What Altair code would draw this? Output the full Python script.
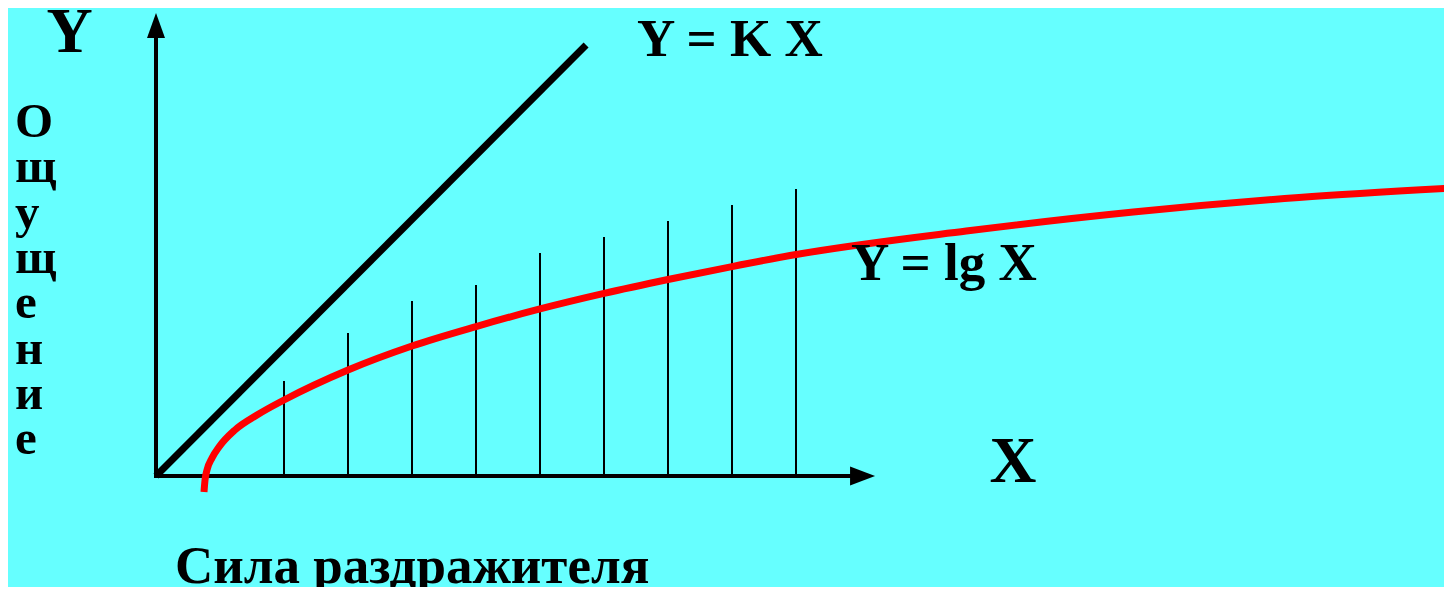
import altair as alt
import pandas as pd

# ---- data (X: stimulus units, Y: sensation units) ----
STRIKE_X = [2, 3, 4, 5, 6, 7, 8, 9, 10]
STRIKE_TOP = [5.94, 8.94, 10.94, 11.94, 13.94, 14.94, 15.94, 16.94, 17.94]

LOG_X = [0.75, 0.766, 0.797, 0.875, 0.984, 1.234, 1.578, 2.0, 3.0, 4.0, 5.0,
         6.0, 7.0, 8.0, 9.0, 10.0, 12.66, 15.27, 17.86, 20.25]
LOG_Y = [-1.0, -0.25, 0.375, 1.125, 1.81, 2.875, 3.81, 4.75, 6.625, 8.125, 9.34,
         10.44, 11.41, 12.28, 13.09, 13.84, 15.31, 16.5, 17.41, 18.0]

LIN_X = [0.0, 6.72]
LIN_Y = [0.0, 26.94]

AXIS_X_END = 10.88
AXIS_Y_END = 27.5
ARROW_X = 11.04
ARROW_Y = 28.16

BG = "#66FFFF"
FONT = "Liberation Serif"

xs = alt.Scale(domain=[-2.3125, 20.125], nice=False, zero=False)
ys = alt.Scale(domain=[-6.9375, 29.25], nice=False, zero=False)

strikes = pd.DataFrame({"x": STRIKE_X, "y0": [0] * len(STRIKE_X), "y1": STRIKE_TOP})
logdf = pd.DataFrame({"x": LOG_X, "y": LOG_Y, "i": list(range(len(LOG_X)))})
lindf = pd.DataFrame({"x": LIN_X, "y": LIN_Y})
vaxis = pd.DataFrame({"x": [0.0], "y0": [-0.12], "y1": [AXIS_Y_END]})
haxis = pd.DataFrame({"x0": [-0.03], "x1": [AXIS_X_END], "y": [0.0]})
up_arrow = pd.DataFrame({"x": [0.0], "y": [ARROW_Y]})
right_arrow = pd.DataFrame({"x": [ARROW_X], "y": [0.0]})

X = lambda f: alt.X(f, type="quantitative", scale=xs, axis=None)
Y = lambda f: alt.Y(f, type="quantitative", scale=ys, axis=None)

rules = alt.Chart(strikes).mark_rule(color="black", strokeWidth=2).encode(
    x=X("x"), y=Y("y0"), y2="y1")

vax = alt.Chart(vaxis).mark_rule(color="black", strokeWidth=4).encode(
    x=X("x"), y=Y("y0"), y2="y1")
hax = alt.Chart(haxis).mark_rule(color="black", strokeWidth=4).encode(
    x=X("x0"), x2="x1", y=Y("y"))

upa = alt.Chart(up_arrow).mark_point(
    shape="M0,-1L0.72,1L-0.72,1Z", size=625, filled=True, fill="black",
    stroke=None, opacity=1).encode(x=X("x"), y=Y("y"))
ra = alt.Chart(right_arrow).mark_point(
    shape="M1,0L-1,0.76L-1,-0.76Z", size=625, filled=True, fill="black",
    stroke=None, opacity=1).encode(x=X("x"), y=Y("y"))

lin = alt.Chart(lindf).mark_line(color="black", strokeWidth=7, strokeCap="butt").encode(
    x=X("x"), y=Y("y"))

logc = alt.Chart(logdf).mark_line(color="#FF0000", strokeWidth=7, strokeCap="butt",
                                  interpolate="monotone").encode(
    x=X("x"), y=Y("y"), order="i:Q")


def label(txt, x, y, size, align="left", **kw):
    return alt.Chart(pd.DataFrame({"t": [txt]})).mark_text(
        font=FONT, fontWeight="bold", fontSize=size, color="black",
        align=align, baseline="alphabetic", **kw).encode(
        x=alt.value(x), y=alt.value(y), text="t:N")


t_y = label("Y", 61.5, 44, 64, align="center")
t_kx = label("Y = K X", 629, 48, 53)
t_lg = label("Y = lg X", 843, 272, 53)
t_x = label("X", 1005, 474, 65, align="center")
t_sila = label("Сила раздражителя", 167, 575, 53)
t_vert = alt.Chart(pd.DataFrame({"t": ["\n".join(list("Ощущение"))]})).mark_text(
    font=FONT, fontWeight="bold", fontSize=49, color="black", align="left",
    baseline="alphabetic", lineBreak="\n", lineHeight=45.3).encode(
    x=alt.value(7), y=alt.value(129), text="t:N")

chart = alt.layer(
    rules, vax, hax, upa, ra, lin, logc, t_y, t_kx, t_lg, t_x, t_sila, t_vert
).properties(
    width=1436, height=579, padding=0, background=BG,
    autosize=alt.AutoSizeParams(type="none")
).configure_view(stroke=None, fill=BG)

chart.save("out.html", embed_options={"renderer": "svg", "actions": False})
